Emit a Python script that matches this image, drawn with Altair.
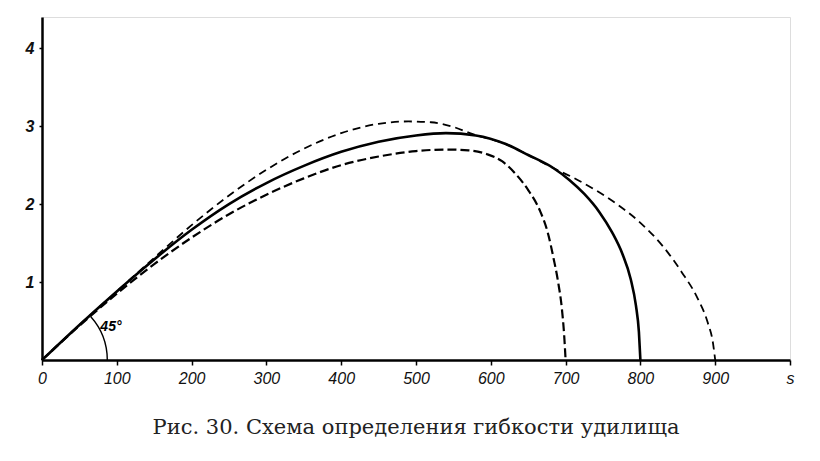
import altair as alt
import pandas as pd

# Solid curve (ends at 800)
solid_x = [0, 50, 100, 150, 200, 250, 300, 350, 400, 450, 500, 540, 580, 620, 650, 684, 705, 725, 745, 762, 776, 787, 794, 798, 800]
solid_y = [0, 0.45, 0.88, 1.29, 1.67, 2.00, 2.27, 2.49, 2.67, 2.80, 2.88, 2.91, 2.88, 2.77, 2.63, 2.46, 2.31, 2.13, 1.90, 1.64, 1.36, 1.04, 0.70, 0.36, 0]

# Upper dashed curve (ends at 900)
upper_x = [0, 50, 100, 150, 200, 250, 300, 350, 400, 450, 490, 520, 550, 575, 620, 650, 684, 710, 740, 770, 800, 830, 855, 876, 890, 897, 900]
upper_y = [0, 0.45, 0.88, 1.31, 1.73, 2.11, 2.44, 2.71, 2.91, 3.03, 3.06, 3.05, 2.99, 2.90, 2.77, 2.63, 2.46, 2.34, 2.18, 1.99, 1.76, 1.46, 1.13, 0.80, 0.48, 0.22, 0]

# Lower dashed curve (ends at 700)
lower_x = [0, 50, 100, 150, 200, 250, 300, 350, 400, 450, 500, 540, 570, 595, 615, 632, 650, 665, 676, 684, 690, 695, 698, 700]
lower_y = [0, 0.44, 0.85, 1.23, 1.57, 1.87, 2.12, 2.33, 2.50, 2.61, 2.68, 2.70, 2.69, 2.64, 2.55, 2.40, 2.18, 1.93, 1.64, 1.30, 1.00, 0.66, 0.33, 0]

x_ticks = [0, 100, 200, 300, 400, 500, 600, 700, 800, 900, 1000]
y_ticks = [1, 2, 3, 4]
angle_label = ["45°"]
caption = "Рис. 30. Схема определения гибкости удилища"

df_solid = pd.DataFrame({"s": solid_x, "h": solid_y})
df_upper = pd.DataFrame({"s": upper_x, "h": upper_y})
df_lower = pd.DataFrame({"s": lower_x, "h": lower_y})
df_lab = pd.DataFrame({"s": [78], "h": [0.42], "t": angle_label})

xscale = alt.Scale(domain=[0, 1000], nice=False, zero=False)
yscale = alt.Scale(domain=[0, 4.4], nice=False, zero=False)

xaxis = alt.Axis(values=x_ticks, title=None, grid=False, format="d",
                 labelExpr="datum.value == 1000 ? 's' : datum.label",
                 labelFont="Liberation Sans", labelFontStyle="italic", labelFontSize=16,
                 labelColor="#111", labelPadding=5, tickSize=5, tickWidth=1.5, tickColor="black",
                 domainColor="black", domainWidth=2.5, labelFlush=False)
yaxis = alt.Axis(values=y_ticks, title=None, grid=False, format="d",
                 labelFont="Liberation Sans", labelFontStyle="italic", labelFontWeight="bold",
                 labelFontSize=16, labelColor="#111", labelPadding=5, tickSize=3, tickWidth=1.5,
                 tickColor="black", domainColor="black", domainWidth=2.5)

def enc(ch):
    return ch.encode(x=alt.X("s:Q", scale=xscale, axis=xaxis),
                     y=alt.Y("h:Q", scale=yscale, axis=yaxis))

solid = enc(alt.Chart(df_solid).mark_line(color="black", strokeWidth=2.6, interpolate="monotone"))
upper = enc(alt.Chart(df_upper).mark_line(color="black", strokeWidth=1.8, strokeDash=[8, 5], interpolate="monotone"))
lower = enc(alt.Chart(df_lower).mark_line(color="black", strokeWidth=2.2, strokeDash=[9, 4], interpolate="monotone"))

arc = alt.Chart(df_lab).mark_arc(radius=66, radius2=64.6, theta=0.84, theta2=1.5708, color="black").encode(
    x=alt.datum(0), y=alt.datum(0))

lab = alt.Chart(df_lab).mark_text(align="left", baseline="middle", font="Liberation Sans",
                                  fontStyle="italic", fontWeight="bold", fontSize=14, color="black").encode(
    x=alt.X("s:Q", scale=xscale, axis=xaxis), y=alt.Y("h:Q", scale=yscale, axis=yaxis), text="t:N")

chart = alt.layer(lower, upper, solid, arc, lab).properties(
    width=748, height=343,
    autosize=alt.AutoSizeParams(type="none"),
    padding={"left": 34, "top": 9, "right": 22, "bottom": 90},
    title=alt.TitleParams(caption, orient="bottom", anchor="middle", font="DejaVu Serif",
                          fontSize=21, fontWeight="normal", color="#222", offset=31),
).configure_view(stroke=None).configure(background="white")

chart.save("out.html", embed_options={"renderer": "svg", "actions": False})
